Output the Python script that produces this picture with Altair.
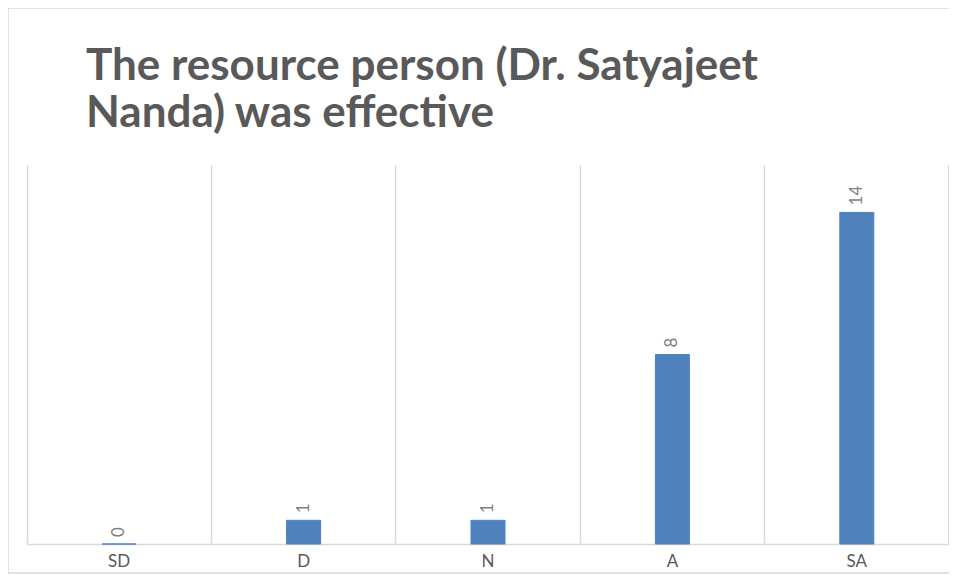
import altair as alt
import pandas as pd

categories = ["SD", "D", "N", "A", "SA"]
counts = [0, 1, 1, 8, 14]
title_lines = ["The resource  person (Dr. Satyajeet", "Nanda) was effective"]

df = pd.DataFrame({"cat": categories, "n": counts})
title_df = pd.DataFrame({"k": [0]})

W, H = 922, 379

x = alt.X("cat:N", sort=categories, title=None,
          scale=alt.Scale(paddingInner=0, paddingOuter=0),
          axis=alt.Axis(labelFont="Lato", labelFontSize=17, labelColor="#595959",
                        labelPadding=9, ticks=False, domainColor="#d9d9d9", domainWidth=1.5,
                        grid=True, gridColor="#d9d9d9", gridWidth=1.5, bandPosition=0,
                        labelAngle=0))
y = alt.Y("n:Q", title=None, scale=alt.Scale(domain=[0, 16], nice=False),
          axis=None)

bars = alt.Chart(df).mark_bar(size=34, color="#4F81BD", stroke="#4F81BD",
                              strokeWidth=1).encode(x=x, y=y)
labels = alt.Chart(df).mark_text(angle=270, align="left", baseline="middle", dx=7,
                                 font="Lato", fontSize=17, color="#7f7f7f").encode(
    x=alt.X("cat:N", sort=categories), y="n:Q", text="n:Q")
right_edge = alt.Chart(df).mark_rule(color="#d9d9d9", strokeWidth=1.5).encode(
    x=alt.value(W), y=alt.value(0), y2=alt.value(H))
border = alt.Chart(title_df).mark_rect(filled=False, stroke="#d9d9d9", strokeWidth=1.5).encode(
    x=alt.value(-19), x2=alt.value(W + 30), y=alt.value(-157), y2=alt.value(H + 29))
title = alt.Chart(title_df).mark_text(
    text=title_lines, align="left", baseline="alphabetic", lineHeight=47,
    font="Lato", fontSize=44, fontWeight="bold", color="#595959").encode(
    x=alt.value(59), y=alt.value(-85))

chart = alt.layer(border, right_edge, bars, labels, title).properties(
    width=W, height=H,
    autosize=alt.AutoSizeParams(type="none"),
    padding={"left": 19, "top": 157, "right": 0, "bottom": 31},
).configure_view(stroke=None)

chart.save("out.html", embed_options={"renderer": "svg", "actions": False})
